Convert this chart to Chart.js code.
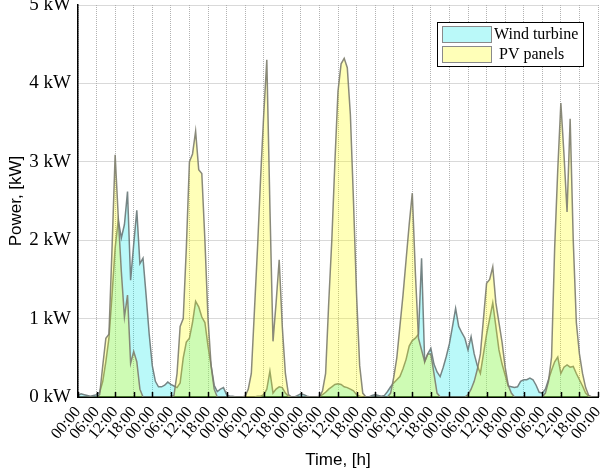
<!DOCTYPE html>
<html>
<head>
<meta charset="utf-8">
<script src="https://cdn.jsdelivr.net/npm/chart.js@4/dist/chart.umd.min.js"></script>
<style>
  html, body { margin: 0; padding: 0; background: #fff; }
  #wrap { width: 610px; height: 474px; }
</style>
</head>
<body>
<div id="wrap"><canvas id="chart" width="610" height="474"></canvas></div>
<script>
// === DATA (hourly, 7 days, kW) ===
const hours = Array.from({ length: 169 }, (_, i) => i);

const windTurbine = [
  0.02, 0.04, 0.03, 0.02, 0.01, 0.02, 0.03, 0.06, 0.20, 0.45, 0.75, 1.30,
  1.90, 2.26, 2.03, 2.20, 2.62, 1.49, 1.95, 2.38, 1.70, 1.77, 1.30, 0.80,
  0.40, 0.20, 0.13, 0.13, 0.15, 0.19, 0.16, 0.14, 0.12, 0.18, 0.50, 0.70,
  0.75, 0.95, 1.22, 1.15, 1.02, 0.95, 0.65, 0.40, 0.15, 0.07, 0.10, 0.12,
  0.03, 0.01, 0.01, 0.00, 0.00, 0.00, 0.00, 0.00, 0.00, 0.00, 0.01, 0.01,
  0.03, 0.10, 0.33, 0.05, 0.10, 0.13, 0.12, 0.05, 0.01, 0.00, 0.00, 0.02,
  0.04, 0.03, 0.01, 0.00, 0.00, 0.00, 0.01, 0.03, 0.06, 0.10, 0.13, 0.16,
  0.17, 0.16, 0.13, 0.12, 0.10, 0.08, 0.03, 0.01, 0.00, 0.00, 0.00, 0.02,
  0.03, 0.02, 0.01, 0.02, 0.07, 0.13, 0.18, 0.22, 0.26, 0.36, 0.48, 0.65,
  0.72, 0.75, 0.80, 1.77, 0.45, 0.55, 0.62, 0.42, 0.32, 0.26, 0.38, 0.52,
  0.68, 0.90, 1.13, 0.90, 0.82, 0.75, 0.60, 0.77, 0.55, 0.40, 0.30, 0.55,
  0.80, 1.00, 1.20, 0.90, 0.60, 0.42, 0.28, 0.14, 0.13, 0.12, 0.13, 0.20,
  0.22, 0.22, 0.24, 0.22, 0.15, 0.06, 0.05, 0.10, 0.22, 0.34, 0.45, 0.51,
  0.30, 0.38, 0.41, 0.38, 0.39, 0.30, 0.22, 0.14, 0.05, 0.01, 0.00, 0.00,
  0.00
];

const pvPanels = [
  0.00, 0.00, 0.00, 0.00, 0.00, 0.00, 0.00, 0.03, 0.40, 0.75, 0.80, 1.90,
  3.09, 2.30, 1.60, 1.02, 1.30, 0.43, 0.58, 0.45, 0.10, 0.00, 0.00, 0.00,
  0.00, 0.00, 0.00, 0.00, 0.00, 0.00, 0.00, 0.02, 0.30, 0.90, 1.00, 1.90,
  3.00, 3.10, 3.39, 2.90, 2.85, 2.00, 1.00, 0.40, 0.10, 0.00, 0.00, 0.00,
  0.00, 0.00, 0.00, 0.00, 0.00, 0.00, 0.01, 0.10, 0.30, 1.10, 1.90, 2.80,
  3.60, 4.30, 2.43, 0.71, 1.20, 1.75, 0.90, 0.30, 0.03, 0.00, 0.00, 0.00,
  0.00, 0.00, 0.00, 0.00, 0.00, 0.00, 0.00, 0.08, 0.30, 1.20, 2.00, 3.00,
  3.90, 4.25, 4.32, 4.20, 3.60, 2.50, 1.30, 0.40, 0.05, 0.00, 0.00, 0.00,
  0.00, 0.00, 0.00, 0.00, 0.00, 0.05, 0.25, 0.50, 0.90, 1.30, 1.75, 2.20,
  2.60, 1.58, 0.75, 0.60, 0.45, 0.55, 0.55, 0.30, 0.05, 0.00, 0.00, 0.00,
  0.00, 0.00, 0.00, 0.00, 0.00, 0.00, 0.03, 0.10, 0.20, 0.35, 0.55, 1.00,
  1.45, 1.50, 1.66, 1.20, 0.95, 0.70, 0.38, 0.15, 0.05, 0.00, 0.00, 0.00,
  0.00, 0.00, 0.00, 0.00, 0.00, 0.00, 0.00, 0.05, 0.20, 0.51, 1.90, 2.90,
  3.75, 3.10, 2.36, 3.55, 2.00, 0.95, 0.55, 0.30, 0.12, 0.02, 0.00, 0.00,
  0.00
];

const seriesNames = ['Wind turbine', 'PV panels'];
const yTicks = [0, 1, 2, 3, 4, 5];

// === HELPERS ===
const SERIF = "'Liberation Serif', 'Times New Roman', serif";
const SANS = "'Liberation Sans', Arial, sans-serif";
const WIND_FILL = 'rgba(0, 232, 232, 0.27)';
const PV_FILL = 'rgba(255, 255, 0, 0.28)';
const GRID = '#b2b2b2';

function hourLabel(v) {
  const h = v % 24;
  return (h < 10 ? '0' + h : '' + h) + ':00';
}

function toPoints(values) {
  return values.map((v, i) => ({ x: hours[i], y: v }));
}

// inward tick marks on the time axis
const innerTicks = {
  id: 'innerTicks',
  afterDatasetsDraw(chart) {
    const { ctx, chartArea, scales } = chart;
    ctx.save();
    ctx.strokeStyle = '#000';
    ctx.lineWidth = 1.5;
    scales.x.ticks.forEach(t => {
      const x = Math.round(scales.x.getPixelForValue(t.value)) + 0.5;
      ctx.beginPath();
      ctx.moveTo(x, chartArea.bottom);
      ctx.lineTo(x, chartArea.bottom - 5);
      ctx.stroke();
    });
    ctx.restore();
  }
};

// boxed legend in the top right corner
const boxLegend = {
  id: 'boxLegend',
  afterDraw(chart) {
    const { ctx } = chart;
    const x0 = 437, y0 = 22, w = 146, h = 44;
    ctx.save();
    ctx.fillStyle = '#fff';
    ctx.fillRect(x0, y0, w, h);
    ctx.strokeStyle = '#000';
    ctx.lineWidth = 1;
    ctx.strokeRect(x0 + 0.5, y0 + 0.5, w, h);

    const rows = [
      { fill: WIND_FILL, text: seriesNames[0], y: 26, tx: 494 },
      { fill: PV_FILL, text: seriesNames[1], y: 46, tx: 499 }
    ];
    ctx.font = '16px ' + SERIF;
    ctx.textBaseline = 'middle';
    rows.forEach(r => {
      ctx.fillStyle = r.fill;
      ctx.fillRect(442, r.y, 49, 16);
      ctx.strokeStyle = '#8a8a8a';
      ctx.strokeRect(442.5, r.y + 0.5, 49, 16);
      ctx.fillStyle = '#000';
      ctx.fillText(r.text, r.tx, r.y + 9);
    });
    ctx.restore();
  }
};

// === CHART ===
new Chart(document.getElementById('chart'), {
  type: 'line',
  data: {
    datasets: [
      {
        label: seriesNames[0],
        data: toPoints(windTurbine),
        order: 1,
        borderColor: 'rgba(105, 120, 120, 0.9)',
        backgroundColor: WIND_FILL,
        borderWidth: 1.5,
        fill: 'origin',
        pointRadius: 0,
        tension: 0
      },
      {
        label: seriesNames[1],
        data: toPoints(pvPanels),
        order: 0,
        borderColor: 'rgba(125, 125, 110, 0.9)',
        backgroundColor: PV_FILL,
        borderWidth: 1.5,
        fill: 'origin',
        pointRadius: 0,
        tension: 0
      }
    ]
  },
  options: {
    responsive: false,
    animation: false,
    layout: { padding: { top: 5, right: 12, left: 0, bottom: 0 } },
    plugins: {
      legend: { display: false },
      tooltip: { enabled: false }
    },
    scales: {
      x: {
        type: 'linear',
        min: 0,
        max: 168,
        afterFit(s) { s.height = 77; s.paddingLeft = 0; s.paddingRight = 0; },
        border: { color: '#000', width: 2, dash: [1, 1] },
        grid: { color: GRID, lineWidth: 1, drawTicks: false },
        ticks: {
          stepSize: 6,
          autoSkip: false,
          maxRotation: 50,
          minRotation: 50,
          padding: 6,
          color: '#000',
          font: { family: SERIF, size: 16 },
          callback: v => hourLabel(v)
        },
        title: {
          display: true,
          text: 'Time, [h]',
          color: '#000',
          font: { family: SANS, size: 17 },
          padding: { top: 0, bottom: 3 }
        }
      },
      y: {
        min: 0,
        max: 5,
        afterFit(s) { s.width = 78; s.paddingTop = 0; s.paddingBottom = 0; },
        afterBuildTicks(s) { s.ticks = yTicks.map(v => ({ value: v })); },
        border: { color: '#000', width: 1.5, dash: [1, 1] },
        grid: { color: GRID, lineWidth: 1, drawTicks: false },
        ticks: {
          padding: 7,
          color: '#000',
          font: { family: SERIF, size: 19 },
          callback: v => v + ' kW'
        },
        title: {
          display: true,
          text: 'Power, [kW]',
          color: '#000',
          font: { family: SANS, size: 17 },
          padding: { top: 6, bottom: 0 }
        }
      }
    }
  },
  plugins: [innerTicks, boxLegend]
});
</script>
</body>
</html>
